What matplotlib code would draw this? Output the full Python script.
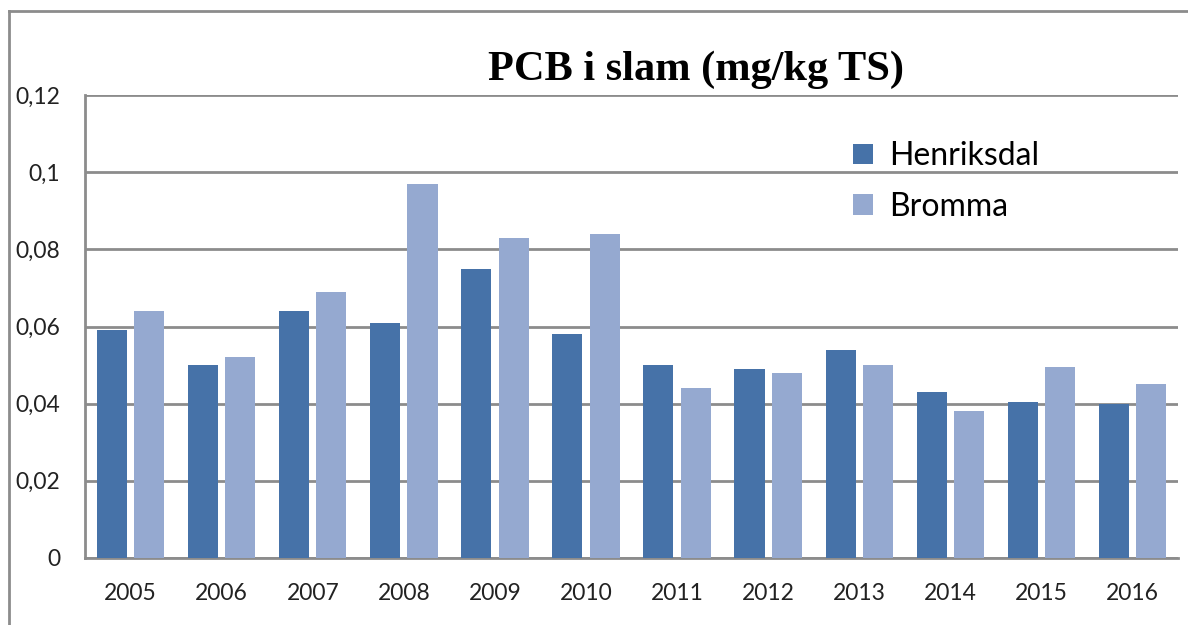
import numpy as np
import matplotlib
matplotlib.use("Agg")
import matplotlib.pyplot as plt
from matplotlib.lines import Line2D
from matplotlib.ticker import FuncFormatter

years = ["2005", "2006", "2007", "2008", "2009", "2010",
         "2011", "2012", "2013", "2014", "2015", "2016"]
henriksdal = [0.059, 0.050, 0.064, 0.061, 0.075, 0.058,
              0.050, 0.049, 0.054, 0.043, 0.0405, 0.040]
bromma = [0.064, 0.052, 0.069, 0.097, 0.083, 0.084,
          0.044, 0.048, 0.050, 0.038, 0.0495, 0.045]

c_hen = "#4672A8"
c_bro = "#95A9D0"
grid_c = "#8C8C8C"
label_font = ["Lato", "DejaVu Sans"]

fig = plt.figure(figsize=(11.88, 6.25), dpi=100)
ax = fig.add_axes([0.0716, 0.1072, 0.92, 0.7408])

x = np.arange(len(years))
w = 0.33
ax.bar(x - 0.205, henriksdal, w, color=c_hen, label="Henriksdal", zorder=3)
ax.bar(x + 0.205, bromma, w, color=c_bro, label="Bromma", zorder=3)

ax.set_xlim(-0.5, len(years) - 0.5)
ax.set_ylim(0, 0.12)
ax.set_yticks(np.arange(0, 0.1201, 0.02))
ax.yaxis.set_major_formatter(FuncFormatter(lambda v, p: f"{round(v, 2):g}".replace(".", ",")))
ax.set_xticks(x)
ax.set_xticklabels(years)

ax.grid(axis="y", color=grid_c, linewidth=2, zorder=0)
for s in ["top", "right"]:
    ax.spines[s].set_visible(False)
for s in ["left", "bottom"]:
    ax.spines[s].set_color(grid_c)
    ax.spines[s].set_linewidth(2)
ax.tick_params(axis="y", length=0, pad=18, labelsize=16.5, labelcolor="#222222")
ax.tick_params(axis="x", length=0, pad=18, labelsize=16.5, labelcolor="#222222")
for lab in ax.get_xticklabels() + ax.get_yticklabels():
    lab.set_family(label_font)

fig.text(0.586, 0.888, "PCB i slam (mg/kg TS)", ha="center", va="center",
         fontsize=30.5, fontweight="bold", family="Liberation Serif")

leg = ax.legend(loc="upper left", bbox_to_anchor=(0.703, 0.9), frameon=False,
                prop={"family": label_font, "size": 23},
                borderpad=0, borderaxespad=0,
                handlelength=0.62, handleheight=0.62, handletextpad=0.5,
                labelspacing=0.64)

# outer chart border (top and left only visible)
fig.add_artist(Line2D([9 / 1188, 9 / 1188], [0, 1 - 11 / 625],
                      transform=fig.transFigure, color=grid_c, linewidth=2))
fig.add_artist(Line2D([9 / 1188, 1], [1 - 11 / 625, 1 - 11 / 625],
                      transform=fig.transFigure, color=grid_c, linewidth=2))

fig.savefig("out.png", dpi=100)
